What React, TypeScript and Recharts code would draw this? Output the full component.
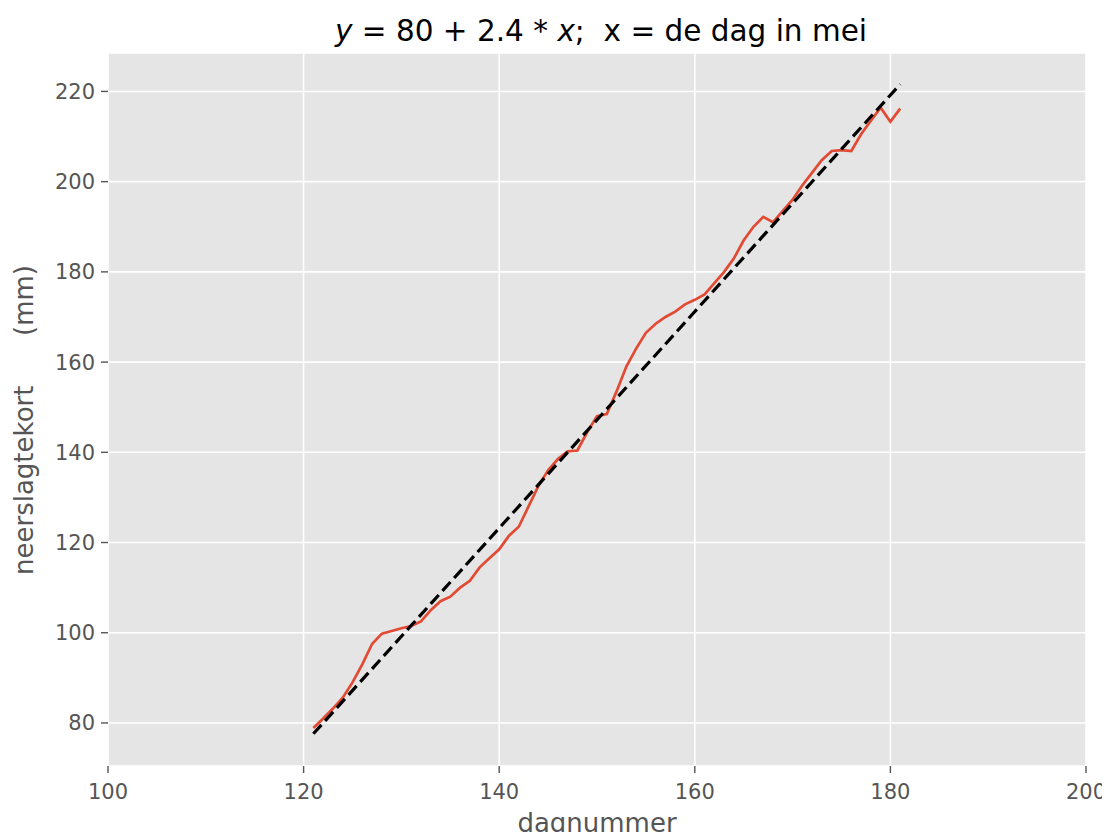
import React from 'react';
import { LineChart, Line, XAxis, YAxis, CartesianGrid } from 'recharts';

const days = [
  121, 122, 123, 124, 125, 126, 127, 128, 129, 130,
  131, 132, 133, 134, 135, 136, 137, 138, 139, 140,
  141, 142, 143, 144, 145, 146, 147, 148, 149, 150,
  151, 152, 153, 154, 155, 156, 157, 158, 159, 160,
  161, 162, 163, 164, 165, 166, 167, 168, 169, 170,
  171, 172, 173, 174, 175, 176, 177, 178, 179, 180, 181,
];

const deficit = [
  78.9, 81.0, 83.2, 85.6, 89.0, 93.0, 97.5, 99.8, 100.4, 101.0,
  101.5, 102.5, 105.0, 107.0, 108.0, 110.0, 111.5, 114.5, 116.5, 118.5,
  121.5, 123.5, 128.0, 132.5, 136.0, 138.5, 140.2, 140.4, 144.5, 148.0,
  148.5, 153.5, 159.0, 163.0, 166.5, 168.5, 170.0, 171.2, 172.8, 173.8,
  175.0, 177.5, 180.0, 183.0, 187.0, 190.0, 192.2, 191.0, 193.5, 196.0,
  199.2, 202.0, 204.8, 206.8, 207.0, 206.8, 210.5, 213.5, 216.4, 213.3, 216.2,
];

const fitDays = [121, 181];
const fitValues = [77.6, 221.6];

const xTicks = [100, 120, 140, 160, 180, 200];
const yTicks = [80, 100, 120, 140, 160, 180, 200, 220];

const data = days.map((d, i) => ({ x: d, y: deficit[i] }));
const fitData = fitDays.map((d, i) => ({ x: d, y: fitValues[i] }));

const tickStyle = { fill: '#555555', fontSize: 21, fontFamily: 'DejaVu Sans' };

export default function App() {
  return (
    <div style={{ position: 'relative', width: 1102, height: 824, fontFamily: 'DejaVu Sans' }}>
      <LineChart
        width={1102}
        height={824}
        margin={{ top: 45, right: 24, bottom: 0, left: 0 }}
      >
        <CartesianGrid fill="#E5E5E5" stroke="#FFFFFF" strokeWidth={1.6} />
        <XAxis
          dataKey="x"
          type="number"
          domain={[100, 200]}
          ticks={xTicks}
          height={66}
          axisLine={false}
          tickLine={{ stroke: '#555555', strokeWidth: 1.4 }}
          tickSize={7}
          tickMargin={11}
          tick={tickStyle}
          allowDuplicatedCategory={false}
        />
        <YAxis
          dataKey="y"
          type="number"
          domain={[70.46, 228.52]}
          ticks={yTicks}
          width={100}
          axisLine={false}
          tickLine={{ stroke: '#555555', strokeWidth: 1.4 }}
          tickSize={7}
          tickMargin={6}
          tick={tickStyle}
        />
        <Line
          data={data}
          dataKey="y"
          type="linear"
          stroke="#E24A33"
          strokeWidth={2.7}
          dot={false}
          isAnimationActive={false}
        />
        <Line
          data={fitData}
          dataKey="y"
          type="linear"
          stroke="#000000"
          strokeWidth={3.2}
          strokeDasharray="12 5.5"
          dot={false}
          isAnimationActive={false}
        />
      </LineChart>
      <div
        style={{
          position: 'absolute',
          left: 593,
          top: 8.5,
          transform: 'translateX(-50%)',
          whiteSpace: 'pre',
          fontSize: 29.5,
          lineHeight: 1,
          color: '#000000',
        }}
      >
        <i>y</i>{' = 80 + 2.4 * '}<i>x</i>{';  x = de dag in mei'}
      </div>
      <div
        style={{
          position: 'absolute',
          left: 589,
          top: 802,
          transform: 'translateX(-50%)',
          whiteSpace: 'pre',
          fontSize: 26,
          lineHeight: 1,
          color: '#555555',
        }}
      >
        dagnummer
      </div>
      <div
        style={{
          position: 'absolute',
          left: 15.5,
          top: 412,
          transform: 'translate(-50%, -50%) rotate(-90deg)',
          whiteSpace: 'pre',
          fontSize: 26,
          lineHeight: 1,
          color: '#555555',
        }}
      >
        {'neerslagtekort      (mm)'}
      </div>
    </div>
  );
}
